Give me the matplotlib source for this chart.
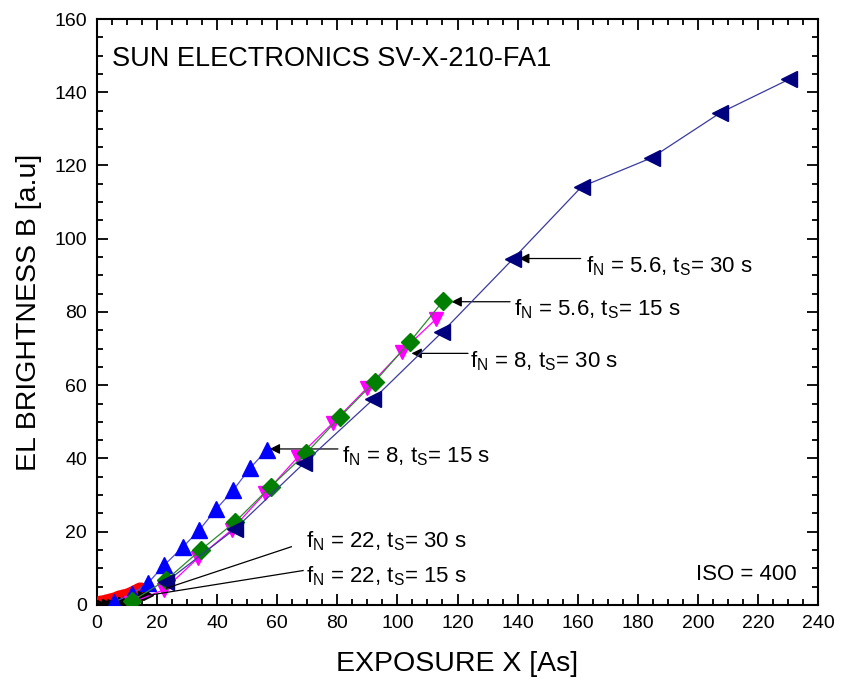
import matplotlib
matplotlib.use("Agg")
import matplotlib.pyplot as plt
from matplotlib.ticker import MultipleLocator

plt.rcParams['font.family'] = ['Liberation Sans', 'DejaVu Sans']
plt.rcParams['mathtext.fontset'] = 'custom'
plt.rcParams['mathtext.rm'] = 'Liberation Sans'

# f_N = 5.6, t_S = 30 s (navy, left triangles)
x_56_30 = [23, 46, 69, 92, 115, 138.6, 161.3, 184.6, 207.5, 230.5]
y_56_30 = [6.3, 20.8, 38.8, 56.2, 74.6, 94.6, 114.2, 122.1, 134.4, 143.6]
# f_N = 5.6, t_S = 15 s (green diamonds)
x_56_15 = [11.5, 23, 34.5, 46, 57.8, 69.6, 80.9, 92.5, 104.2, 115.2]
y_56_15 = [1.0, 6.8, 15.0, 22.7, 32.3, 41.4, 51.4, 61.0, 71.9, 83.0]
# f_N = 8, t_S = 30 s (magenta down triangles)
x_8_30 = [11.2, 22.4, 33.6, 44.8, 55.9, 67.0, 78.4, 89.8, 101.4, 113.0]
y_8_30 = [0.5, 4.2, 12.8, 20.5, 30.5, 40.5, 49.6, 59.2, 69.2, 78.2]
# f_N = 8, t_S = 15 s (blue up triangles)
x_8_15 = [5.75, 11.5, 16.9, 22.4, 28.7, 34.1, 39.6, 45.4, 50.9, 56.5]
y_8_15 = [0.8, 3.0, 5.9, 10.9, 15.9, 20.5, 26.1, 31.4, 37.3, 42.3]
# f_N = 22, t_S = 30 s (red)
x_22_30 = [1.4, 2.9, 4.3, 5.8, 7.2, 8.6, 10.0, 11.5, 13.0, 14.4]
y_22_30 = [0.2, 0.5, 0.8, 1.1, 1.5, 1.9, 2.3, 2.8, 3.3, 3.8]
# f_N = 22, t_S = 15 s (black)
x_22_15 = [1.7, 3.4, 5.1, 6.8, 8.5, 10.2, 11.9, 13.6, 15.3, 17.0]
y_22_15 = [0.1, 0.2, 0.4, 0.6, 0.9, 1.2, 1.6, 2.0, 2.4, 2.8]

fig = plt.figure(figsize=(8.41, 6.91), dpi=100)
ax = fig.add_axes([0.1153, 0.1245, 0.8574, 0.848])

lw = 0.9
ax.plot(x_22_30, y_22_30, color='#ff0000', marker='o', ms=12, lw=lw, mec='#ff0000', zorder=3)
ax.plot(x_22_15, y_22_15, color='#000000', marker='>', ms=7, lw=lw, zorder=3)
ax.plot(x_8_15, y_8_15, color='#5050d0', marker='^', ms=11, mfc='#0000ff', mec='#0000ff', lw=lw, zorder=4)
ax.plot(x_8_30, y_8_30, color='#ff00ff', marker='v', ms=10, mfc='#ff00ff', mec='#ff00ff', lw=lw, zorder=4)
ax.plot(x_56_15, y_56_15, color='#2a8a2a', marker='D', ms=9, mfc='#007f00', mec='#007f00', lw=lw, zorder=5)
ax.plot(x_56_30, y_56_30, color='#3a3aa0', marker='<', ms=11, mfc='#00007f', mec='#00007f', lw=lw, zorder=5)

ax.set_xlim(0, 240)
ax.set_ylim(0, 160)
ax.xaxis.set_major_locator(MultipleLocator(20))
ax.xaxis.set_minor_locator(MultipleLocator(5))
ax.yaxis.set_major_locator(MultipleLocator(20))
ax.yaxis.set_minor_locator(MultipleLocator(5))
ax.tick_params(which='both', direction='in', top=True, right=True, labelsize=14, width=1.3)
ax.tick_params(which='major', length=8, pad=7)
ax.tick_params(which='minor', length=4)
for s in ax.spines.values():
    s.set_linewidth(1.5)

ax.set_xlabel('EXPOSURE X [As]', fontsize=20.5, labelpad=14)
ax.set_ylabel('EL BRIGHTNESS B [a.u]', fontsize=20.5, labelpad=9)

fs = 16
ax.text(5, 149, 'SUN ELECTRONICS SV-X-210-FA1', fontsize=19.5, va='center', ha='left')
ax.text(233, 8.2, 'ISO = 400', fontsize=fs, va='center', ha='right')

arrowprops = dict(arrowstyle='-|>', color='black', lw=0.9, mutation_scale=15, shrinkA=0, shrinkB=0)

def lab(fn, ts):
    return r'f$_\mathregular{N}$ = ' + fn + r', t$_\mathregular{S}$= ' + ts + ' s'

ax.annotate('', xy=(140.5, 94.6), xytext=(161, 94.6), arrowprops=arrowprops)
ax.text(162.8, 92.5, lab('5.6', '30'), fontsize=fs, va='center', ha='left')

ax.annotate('', xy=(118, 82.8), xytext=(137.5, 82.8), arrowprops=arrowprops)
ax.text(138.8, 80.7, lab('5.6', '15'), fontsize=fs, va='center', ha='left')

ax.annotate('', xy=(104.7, 68.7), xytext=(123.5, 68.7), arrowprops=arrowprops)
ax.text(124.2, 66.6, lab('8', '30'), fontsize=fs, va='center', ha='left')

ax.annotate('', xy=(57.5, 42.6), xytext=(80.2, 42.6), arrowprops=arrowprops)
ax.text(81.5, 40.5, lab('8', '15'), fontsize=fs, va='center', ha='left')

ax.plot([64.7, 23.2], [15.9, 4.6], color='black', lw=0.9, zorder=6)
ax.text(69.5, 17.3, lab('22', '30'), fontsize=fs, va='center', ha='left')
ax.plot([68.6, 17.6], [9.4, 2.7], color='black', lw=0.9, zorder=6)
ax.text(69.5, 7.8, lab('22', '15'), fontsize=fs, va='center', ha='left')

fig.savefig('out.png', dpi=100)
